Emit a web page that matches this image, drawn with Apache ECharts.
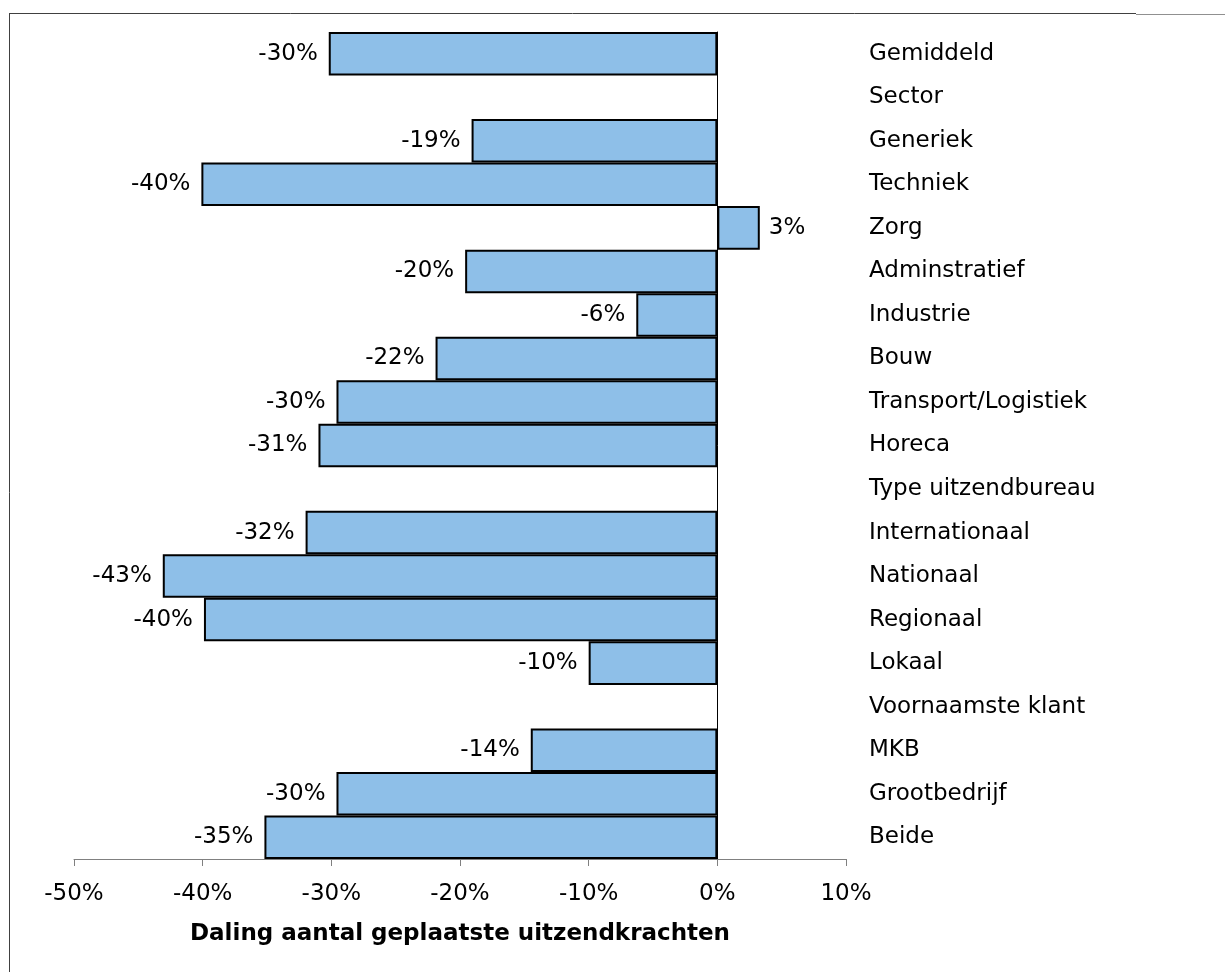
<!DOCTYPE html>
<html>
<head>
<meta charset="utf-8">
<script src="https://cdn.jsdelivr.net/npm/echarts@6/dist/echarts.min.js"></script>
<style>
  html, body { margin: 0; padding: 0; background: #fff; }
  #chart { width: 1225px; height: 972px; }
</style>
</head>
<body>
<div id="chart"></div>
<script>
// rijen van boven naar beneden
var categories = ['Gemiddeld', 'Sector', 'Generiek', 'Techniek', 'Zorg', 'Adminstratief',
  'Industrie', 'Bouw', 'Transport/Logistiek', 'Horeca', 'Type uitzendbureau',
  'Internationaal', 'Nationaal', 'Regionaal', 'Lokaal', 'Voornaamste klant',
  'MKB', 'Grootbedrijf', 'Beide'];
// daling in %, null = kopregel zonder balk
var values = [-30.2, null, -19.1, -40.1, 3.3, -19.6, -6.3, -21.9, -29.6, -31.0, null,
  -32.0, -43.1, -39.9, -10.0, null, -14.5, -29.6, -35.2];
var valueLabels = ['-30%', '', '-19%', '-40%', '3%', '-20%', '-6%', '-22%', '-30%', '-31%', '',
  '-32%', '-43%', '-40%', '-10%', '', '-14%', '-30%', '-35%'];
var xTicks = [-50, -40, -30, -20, -10, 0, 10];

var FONT = 'DejaVu Sans';

var chart = echarts.init(document.getElementById('chart'));

var barData = values.map(function (v, i) {
  if (v === null) return '-';
  return {
    value: v,
    label: {position: v < 0 ? 'left' : 'right', distance: v < 0 ? 11 : 9, formatter: valueLabels[i]}
  };
});

var option = {
  backgroundColor: '#fff',
  animation: false,
  textStyle: {fontFamily: FONT},
  grid: {left: 74, right: 379, top: 32, bottom: 113},
  xAxis: {
    type: 'value',
    min: xTicks[0],
    max: xTicks[xTicks.length - 1],
    interval: 10,
    name: 'Daling aantal geplaatste uitzendkrachten',
    nameLocation: 'middle',
    nameGap: 64,
    nameTextStyle: {fontFamily: FONT, fontSize: 23, fontWeight: 'bold', color: '#000'},
    axisLine: {show: true, onZero: false, lineStyle: {color: '#808080', width: 1}},
    axisTick: {show: true, length: 7, lineStyle: {color: '#808080', width: 1}},
    axisLabel: {
      margin: 24, fontFamily: FONT, fontSize: 23, color: '#000',
      formatter: function (v) { return v + '%'; }
    },
    splitLine: {show: false}
  },
  yAxis: [
    {
      // nul-lijn
      type: 'category',
      data: categories,
      inverse: true,
      position: 'left',
      axisLine: {show: true, onZero: true, lineStyle: {color: '#000', width: 1}},
      axisTick: {show: false},
      axisLabel: {show: false},
      splitLine: {show: false}
    },
    {
      type: 'category',
      data: categories,
      inverse: true,
      position: 'right',
      axisLine: {show: false, onZero: false},
      axisTick: {show: false},
      axisLabel: {margin: 23, align: 'left', fontFamily: FONT, fontSize: 23, color: '#000'},
      splitLine: {show: false}
    }
  ],
  series: [{
    type: 'bar',
    yAxisIndex: 0,
    barCategoryGap: 0,
    data: barData,
    itemStyle: {color: '#8EBFE8', borderColor: '#000', borderWidth: 2},
    label: {show: true, fontFamily: FONT, fontSize: 23, color: '#000'}
  }],
  graphic: [
    {type: 'line', shape: {x1: 9, y1: 13.5, x2: 1136, y2: 13.5}, style: {stroke: '#404040', lineWidth: 1}},
    {type: 'line', shape: {x1: 1136, y1: 14.5, x2: 1225, y2: 14.5}, style: {stroke: '#909090', lineWidth: 1}},
    {type: 'line', shape: {x1: 9.5, y1: 13, x2: 9.5, y2: 972}, style: {stroke: '#404040', lineWidth: 1}}
  ]
};

chart.setOption(option);
</script>
</body>
</html>
